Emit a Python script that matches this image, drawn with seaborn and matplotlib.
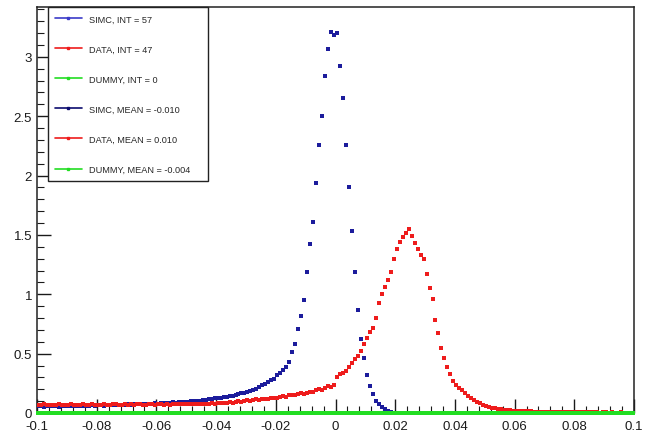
import numpy as np
import pandas as pd
import seaborn as sns
import matplotlib.pyplot as plt
from matplotlib.lines import Line2D
from matplotlib.ticker import AutoMinorLocator

# histogram binning: 200 bins from -0.1 to 0.1
n_bins = 200
centers = np.linspace(-0.0995, 0.0995, n_bins)

simc = [
    0.055, 0.058, 0.053, 0.057, 0.060, 0.056, 0.059, 0.054, 0.058, 0.061,
    0.057, 0.060, 0.062, 0.058, 0.061, 0.063, 0.059, 0.062, 0.065, 0.061,
    0.064, 0.066, 0.062, 0.067, 0.065, 0.069, 0.066, 0.070, 0.068, 0.071,
    0.073, 0.070, 0.074, 0.076, 0.072, 0.077, 0.075, 0.079, 0.078, 0.081,
    0.080, 0.083, 0.085, 0.082, 0.087, 0.089, 0.086, 0.091, 0.093, 0.096,
    0.094, 0.098, 0.101, 0.099, 0.104, 0.107, 0.112, 0.116, 0.120, 0.123,
    0.127, 0.130, 0.134, 0.137, 0.141, 0.147, 0.152, 0.157, 0.165, 0.171,
    0.178, 0.188, 0.196, 0.205, 0.222, 0.232, 0.245, 0.258, 0.275, 0.290,
    0.320, 0.340, 0.360, 0.385, 0.430, 0.510, 0.580, 0.710, 0.820, 0.950,
    1.19, 1.42, 1.61, 1.94, 2.26, 2.50, 2.84, 3.07, 3.21, 3.18,
    3.20, 2.92, 2.65, 2.26, 1.90, 1.53, 1.19, 0.87, 0.62, 0.46,
    0.32, 0.23, 0.16, 0.105, 0.075, 0.048, 0.030, 0.016, 0.008, 0.004,
    0.002, 0.001,
] + [0.0] * 78

data = [
    0.070, 0.066, 0.072, 0.068, 0.071, 0.065, 0.069, 0.073, 0.067, 0.070,
    0.068, 0.072, 0.066, 0.071, 0.069, 0.074, 0.067, 0.070, 0.073, 0.068,
    0.071, 0.069, 0.074, 0.070, 0.067, 0.072, 0.075, 0.069, 0.071, 0.073,
    0.070, 0.074, 0.068, 0.072, 0.075, 0.071, 0.069, 0.074, 0.072, 0.070,
    0.073, 0.076, 0.071, 0.074, 0.070, 0.075, 0.077, 0.072, 0.074, 0.078,
    0.073, 0.076, 0.079, 0.074, 0.077, 0.080, 0.076, 0.079, 0.082, 0.078,
    0.083, 0.086, 0.082, 0.088, 0.091, 0.087, 0.094, 0.098, 0.095, 0.101,
    0.106, 0.103, 0.110, 0.114, 0.110, 0.118, 0.122, 0.118, 0.125, 0.130,
    0.127, 0.136, 0.142, 0.138, 0.148, 0.155, 0.150, 0.162, 0.168, 0.160,
    0.172, 0.180, 0.176, 0.192, 0.200, 0.196, 0.212, 0.225, 0.218, 0.232,
    0.300, 0.330, 0.340, 0.356, 0.390, 0.420, 0.455, 0.480, 0.520, 0.580,
    0.63, 0.68, 0.72, 0.80, 0.93, 1.00, 1.06, 1.12, 1.19, 1.30,
    1.38, 1.44, 1.48, 1.52, 1.55, 1.49, 1.43, 1.38, 1.33, 1.30,
    1.17, 1.05, 0.96, 0.78, 0.67, 0.55, 0.46, 0.39, 0.33, 0.27,
    0.235, 0.21, 0.19, 0.17, 0.14, 0.125, 0.11, 0.095, 0.085, 0.068,
    0.060, 0.050, 0.045, 0.038, 0.034, 0.030, 0.027, 0.025, 0.022, 0.020,
    0.019, 0.017, 0.016, 0.015, 0.014, 0.013, 0.012, 0.012, 0.011, 0.010,
    0.010, 0.009, 0.010, 0.008, 0.009, 0.008, 0.007, 0.008, 0.007, 0.006,
    0.007, 0.006, 0.006, 0.005, 0.006, 0.005, 0.005, 0.006, 0.004, 0.005,
    0.005, 0.004, 0.005, 0.004, 0.004, 0.005, 0.003, 0.004, 0.004, 0.003,
]

dummy = [0.0] * n_bins

legend_labels = ["SIMC, INT = 57", "DATA, INT = 47", "DUMMY, INT = 0",
                 "SIMC, MEAN = -0.010", "DATA, MEAN = 0.010", "DUMMY, MEAN = -0.004"]
xtick_vals = [-0.1, -0.08, -0.06, -0.04, -0.02, 0, 0.02, 0.04, 0.06, 0.08, 0.1]
xtick_labels = ["-0.1", "-0.08", "-0.06", "-0.04", "-0.02", "0",
                "0.02", "0.04", "0.06", "0.08", "0.1"]
ytick_vals = [0, 0.5, 1, 1.5, 2, 2.5, 3]
ytick_labels = ["0", "0.5", "1", "1.5", "2", "2.5", "3"]

sns.set_style("ticks")
plt.rcParams['font.family'] = ['Liberation Sans', 'DejaVu Sans']

blue = "#1c1c9c"
red = "#ee1c1c"
green = "#22dd22"

fig, ax = plt.subplots(figsize=(6.46, 4.35), dpi=100)
fig.subplots_adjust(left=37/646, right=634/646, top=1-8/435, bottom=1-414/435)

sns.scatterplot(x=centers, y=simc, color=blue, marker='s', s=12, linewidth=0, ax=ax, zorder=3)
sns.scatterplot(x=centers, y=data, color=red, marker='s', s=12, linewidth=0, ax=ax, zorder=4)
sns.scatterplot(x=centers, y=dummy, color=green, marker='s', s=11, linewidth=0, ax=ax,
                zorder=5, clip_on=False)

ax.set_xlim(-0.1, 0.1)
ax.set_ylim(0, 3.42)
ax.set_xticks(xtick_vals)
ax.set_xticklabels(xtick_labels)
ax.set_yticks(ytick_vals)
ax.set_yticklabels(ytick_labels)
ax.xaxis.set_minor_locator(AutoMinorLocator(5))
ax.yaxis.set_minor_locator(AutoMinorLocator(5))
ax.tick_params(axis='both', which='both', direction='in', top=False, right=False,
               labelsize=9.5, colors='#1a1a1a')
ax.tick_params(axis='x', which='major', pad=5)
ax.tick_params(axis='both', which='major', length=10, width=1)
ax.tick_params(axis='both', which='minor', length=5, width=0.8)
for sp in ax.spines.values():
    sp.set_linewidth(1.1)
    sp.set_color('#222222')
ax.set_xlabel("")
ax.set_ylabel("")

handles = [
    Line2D([], [], color="#3b3bc8", lw=1.2, marker='s', markersize=1.5),
    Line2D([], [], color=red, lw=1.2, marker='s', markersize=1.5),
    Line2D([], [], color=green, lw=1.2, marker='s', markersize=1.5),
    Line2D([], [], color="#0c0c6e", lw=1.2, marker='s', markersize=1.5),
    Line2D([], [], color=red, lw=1.2, marker='s', markersize=1.5),
    Line2D([], [], color=green, lw=1.2, marker='s', markersize=1.5),
]
leg = ax.legend(handles, legend_labels, loc='upper left',
                bbox_to_anchor=(0.018, 0.557, 0.268, 0.443), mode='expand',
                borderaxespad=0, fontsize=6.6, labelspacing=2.3, handlelength=2.9,
                handletextpad=0.75, numpoints=1, fancybox=False, framealpha=1,
                edgecolor='#222222', borderpad=0.8)
leg.get_frame().set_linewidth(1.0)

fig.savefig("out.png", dpi=100)
